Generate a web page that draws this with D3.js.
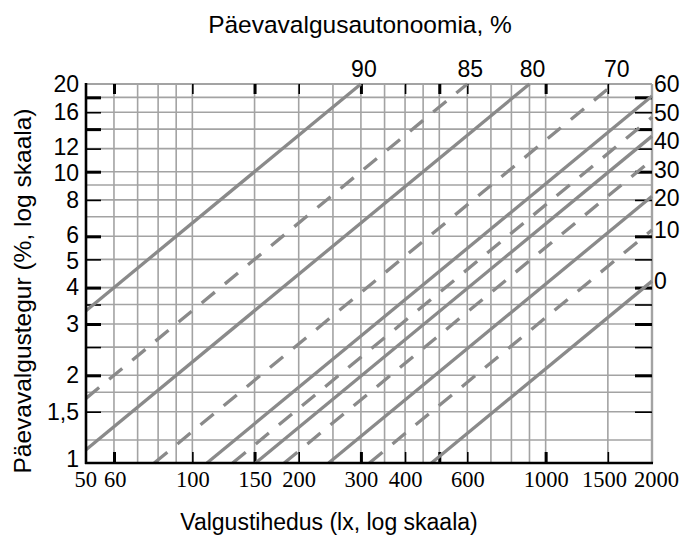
<!DOCTYPE html>
<html>
<head>
<meta charset="utf-8">
<script src="https://cdn.jsdelivr.net/npm/d3@7"></script>
<style>
  html, body { margin: 0; padding: 0; background: #fff; }
  svg { display: block; }
  .sans { font-family: "Liberation Sans", Arial, sans-serif; }
  .serif { font-family: "Liberation Serif", "Times New Roman", serif; }
</style>
</head>
<body>
<svg id="chart" width="686" height="541"></svg>
<script>
// Illuminance axis (lx, log scale)
const luxLabels = [50, 60, 100, 150, 200, 300, 400, 600, 1000, 1500, 2000];
const luxGrid = [60, 70, 80, 90, 100, 150, 200, 250, 300, 350, 400, 450, 500, 600, 700, 800, 900, 1000, 1500];
const luxMarks = [60, 100, 150, 200, 300, 400, 500, 600, 1000, 1500];

// Daylight factor axis (%, log scale)
const dfLabels = [20, 16, 12, 10, 8, 6, 5, 4, 3, 2, 1.5, 1];
const dfGrid = [1.2, 1.5, 1.75, 2, 2.5, 3, 3.5, 4, 5, 6, 7, 8, 9, 10, 12, 14, 16, 18];
const dfMarks = [18, 16, 14, 12, 10, 8, 6, 5, 4, 3.5, 3, 2.5, 2, 1.5];

// Daylight autonomy (%) and the outdoor illuminance (lx) each line belongs to
const autonomy = [90, 85, 80, 70, 60, 50, 40, 30, 20, 10, 0];
const outdoorLux = [1500, 3000, 4500, 7800, 11000, 13000, 15100, 18200, 24300, 31700, 47500];

const svg = d3.select("#chart");
const pLeft = 86, pRight = 652, pTop = 84, pBottom = 463;

const x = d3.scaleLog().domain([50, 2000]).range([pLeft, pRight]);
const y = d3.scaleLog().domain([1, 20]).range([pBottom, pTop]);
const comma = v => String(v).replace(".", ",");

const gridColor = "#a3a3a3";
const lineColor = "#8a8a8a";

// Spread 1-D label positions so neighbours keep apart; each overlapping group
// is laid out edge to edge around the mean of its wanted positions.
function spread(items, pad) {
  const sorted = items.slice().sort((a, b) => a.p0 - b.p0);
  const lay = cl => {
    const off = [0];
    for (let j = 1; j < cl.length; j++) off.push(off[j - 1] + (cl[j - 1].s + cl[j].s) / 2 + pad);
    const shift = d3.mean(cl, d => d.p0) - d3.mean(off);
    cl.forEach((d, j) => { d.p = off[j] + shift; });
  };
  const clusters = [];
  sorted.forEach(it => {
    let cur = [it];
    lay(cur);
    while (clusters.length) {
      const prev = clusters[clusters.length - 1];
      const a = prev[prev.length - 1], b = cur[0];
      if (b.p - a.p >= (a.s + b.s) / 2 + pad) break;
      clusters.pop();
      cur = prev.concat(cur);
      lay(cur);
    }
    clusters.push(cur);
  });
  return items;
}

// grid
const grid = svg.append("g");
grid.selectAll("line.v").data(luxGrid).join("line").attr("class", "v")
  .attr("x1", d => x(d)).attr("x2", d => x(d))
  .attr("y1", pTop).attr("y2", pBottom)
  .attr("stroke", gridColor).attr("stroke-width", 1.6);
grid.selectAll("line.h").data(dfGrid).join("line").attr("class", "h")
  .attr("x1", pLeft).attr("x2", pRight)
  .attr("y1", d => y(d)).attr("y2", d => y(d))
  .attr("stroke", gridColor).attr("stroke-width", 1.6);

// frame: top and right in grid grey
svg.append("line").attr("x1", pLeft).attr("x2", pRight).attr("y1", pTop).attr("y2", pTop)
  .attr("stroke", gridColor).attr("stroke-width", 2.2);
svg.append("line").attr("x1", pRight).attr("x2", pRight).attr("y1", pTop).attr("y2", pBottom)
  .attr("stroke", gridColor).attr("stroke-width", 2.4);

// black tick marks pointing into the plot
function markStyle(g) {
  g.select(".domain").remove();
  g.selectAll(".tick line").attr("stroke", "#000")
    .attr("stroke-width", (d, i) => (i % 2 === 0 ? 3 : 1.6));
}
svg.append("g").attr("transform", `translate(0,${pBottom})`)
  .call(d3.axisBottom(x).tickValues(luxMarks).tickFormat("").tickSizeInner(-11).tickSizeOuter(0))
  .call(markStyle);
svg.append("g").attr("transform", `translate(0,${pTop})`)
  .call(d3.axisTop(x).tickValues(luxMarks).tickFormat("").tickSizeInner(-10).tickSizeOuter(0))
  .call(markStyle);
svg.append("g").attr("transform", `translate(${pLeft},0)`)
  .call(d3.axisLeft(y).tickValues(dfMarks).tickFormat("").tickSizeInner(-15).tickSizeOuter(0))
  .call(markStyle);
svg.append("g").attr("transform", `translate(${pRight},0)`)
  .call(d3.axisRight(y).tickValues(dfMarks).tickFormat("").tickSizeInner(-17).tickSizeOuter(0))
  .call(markStyle);

// constant-autonomy lines: DF% = 100 * E / E_outdoor
const lines = autonomy.map((a, i) => {
  const k = 100 / outdoorLux[i];
  const e0 = Math.max(50, 1 / k);
  const e1 = Math.min(2000, 20 / k);
  return { a, i, k, pts: [[e0, e0 * k], [e1, e1 * k]] };
});
const lineGen = d3.line().x(d => x(d[0])).y(d => y(d[1]));
svg.append("g").selectAll("path").data(lines).join("path")
  .attr("d", d => lineGen(d.pts))
  .attr("fill", "none")
  .attr("stroke", lineColor)
  .attr("stroke-width", 3.3)
  .attr("stroke-dasharray", d => (d.i % 2 === 1 ? "17,13" : null));

// left and bottom axis lines
svg.append("line").attr("x1", pLeft).attr("x2", pLeft).attr("y1", pTop - 1).attr("y2", pBottom + 1)
  .attr("stroke", "#000").attr("stroke-width", 2.6);
svg.append("line").attr("x1", pLeft - 1).attr("x2", pRight + 1).attr("y1", pBottom).attr("y2", pBottom)
  .attr("stroke", "#000").attr("stroke-width", 2.6);

// left tick labels, kept clear of each other and of the bottom axis labels
const leftAxis = svg.append("g").attr("transform", `translate(${pLeft},0)`)
  .call(d3.axisLeft(y).tickValues(dfLabels).tickFormat(comma).tickSize(0).tickPadding(7))
  .call(g => g.select(".domain").remove());
leftAxis.selectAll("text").attr("class", "sans").attr("font-size", 23).attr("fill", "#000");
const leftItems = spread(dfLabels.map(v => ({ v, p0: y(v), s: 23 })), 3);
leftAxis.selectAll(".tick text")
  .attr("y", (d, i) => Math.min(leftItems[i].p, pBottom - 4) - y(d));

// bottom tick labels, spread horizontally where they would touch
const bottomAxis = svg.append("g").attr("transform", `translate(0,${pBottom})`)
  .call(d3.axisBottom(x).tickValues(luxLabels).tickFormat(d3.format("d")).tickSize(0).tickPadding(8))
  .call(g => g.select(".domain").remove());
bottomAxis.selectAll("text").attr("class", "serif").attr("font-size", 22.5).attr("fill", "#000");
const bottomItems = luxLabels.map(v => ({ v, p0: x(v), s: 0 }));
bottomAxis.selectAll(".tick text").each(function (d, i) { bottomItems[i].s = this.getComputedTextLength(); });
spread(bottomItems, 7);
bottomAxis.selectAll(".tick text").attr("x", (d, i) => bottomItems[i].p - x(d));

// autonomy labels: at the top edge or along the right edge, where each line leaves the plot
const topLabels = lines.filter(d => 2000 * d.k > 20);
const sideLabels = lines.filter(d => 2000 * d.k <= 20)
  .map(d => ({ a: d.a, p0: y(2000 * d.k), s: 23 }));
spread(sideLabels, 5.5);

svg.append("g").selectAll("text").data(topLabels).join("text")
  .attr("class", "sans").attr("font-size", 23).attr("text-anchor", "middle")
  .attr("x", d => x(20 / d.k) + 3).attr("y", pTop - 7)
  .text(d => d.a);

svg.append("g").selectAll("text").data(sideLabels).join("text")
  .attr("class", "sans").attr("font-size", 23)
  .attr("x", pRight + 2).attr("y", d => d.p).attr("dy", "0.36em")
  .text(d => d.a);

// axis titles
svg.append("text").attr("class", "sans").attr("font-size", 24.5)
  .attr("text-anchor", "middle").attr("x", 360).attr("y", 33)
  .text("Päevavalgusautonoomia, %");
svg.append("text").attr("class", "sans").attr("font-size", 23)
  .attr("text-anchor", "middle").attr("x", 329).attr("y", 530)
  .text("Valgustihedus (lx, log skaala)");
svg.append("text").attr("class", "sans").attr("font-size", 24.5)
  .attr("text-anchor", "middle")
  .attr("transform", "translate(31,291) rotate(-90)")
  .text("Päevavalgustegur (%, log skaala)");
</script>
</body>
</html>
